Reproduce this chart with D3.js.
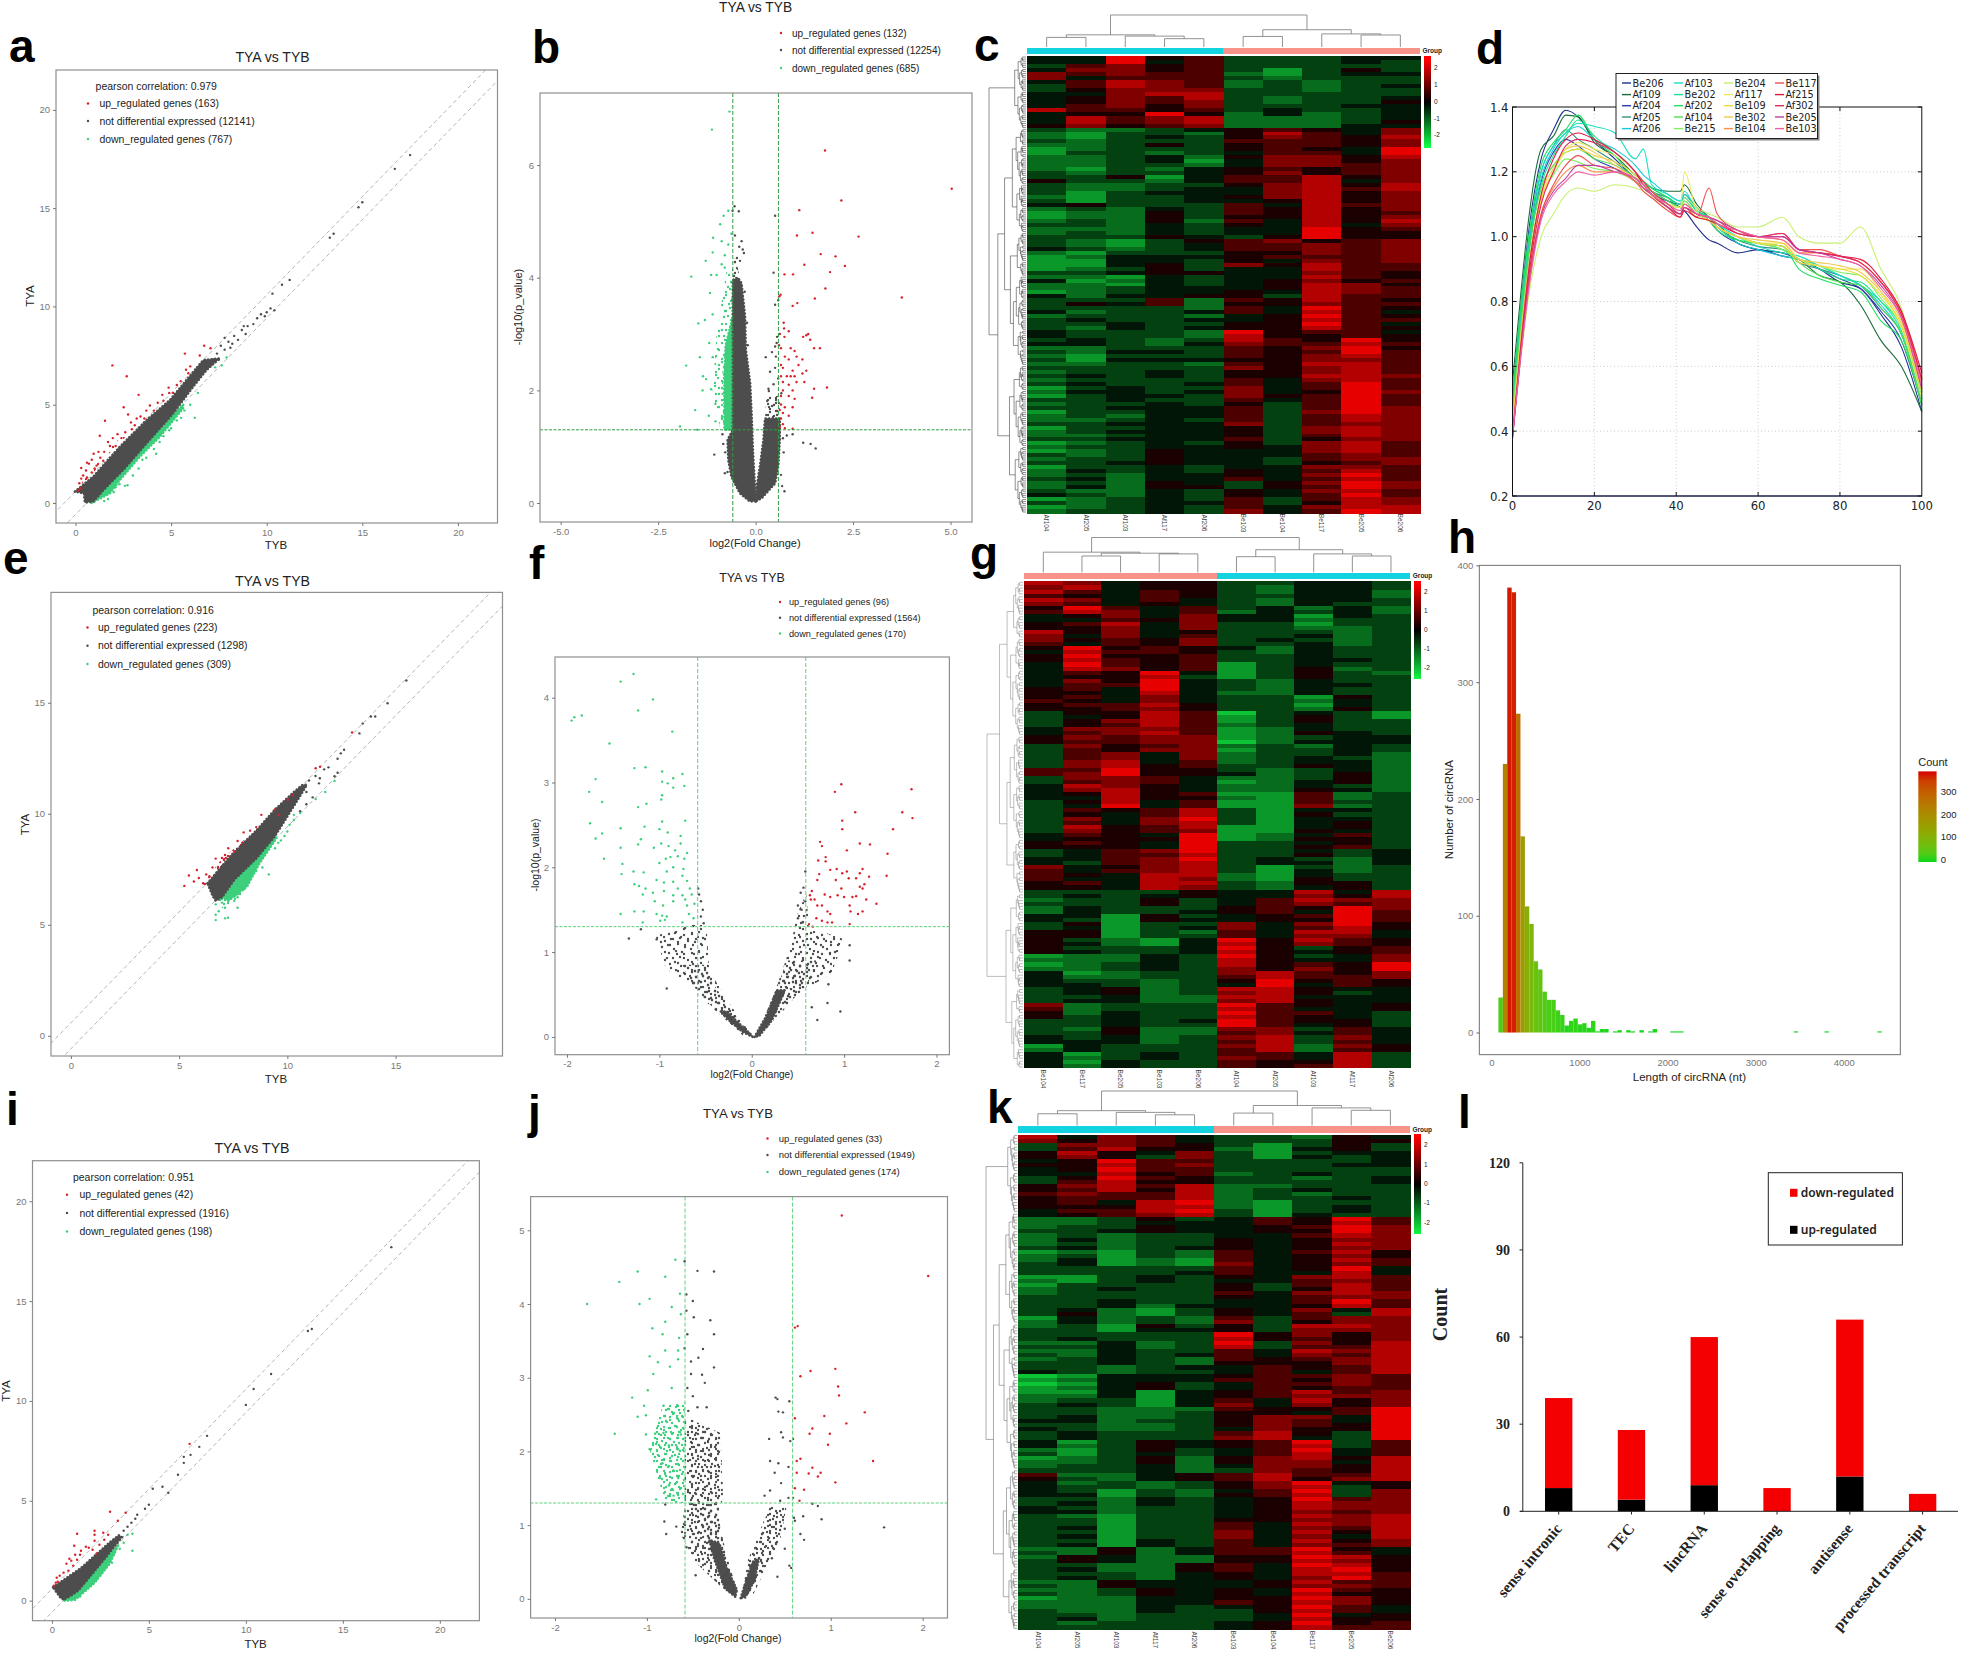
<!DOCTYPE html>
<html><head><meta charset="utf-8">
<script src="https://cdnjs.cloudflare.com/ajax/libs/d3/7.8.5/d3.min.js"></script>
<style>html,body{margin:0;background:#fff}svg{display:block}text{font-family:"Liberation Sans",Arial,sans-serif}</style>
</head><body><svg id="c" width="1961" height="1653"></svg>
<script>
/* ---------- panel a ---------- */
const aCore=[[-.03,.58],[.93,1.34],[2.32,2.86],[3.72,4.22],[4.94,5.24],[5.81,6.26],[6.68,7.27],[7.55,7.36],[6.86,6.77],[6.16,5.92],[5.11,4.56],[3.72,3.04],[2.5,1.68],[1.63,.83],[.93,.07],[.49,.02],[.44,.49]];
const aGreenCore=[[.84,0],[1.8,.49],[2.32,1.17],[3.37,2.36],[4.41,3.37],[5.63,4.82],[5.63,5],[2.5,2],[1,.5]];
const aRedZone=[[.1,.75],[.9,1.75],[2,3],[3,3.9],[3,3.7],[2,2.8],[.9,1.5],[.1,.65]];
const aRed=[[1.93,7],[2.68,6.45],[3.3,5.5],[1.54,4.18],[5.72,7.6],[6.73,8],[7.06,7.87],[6.5,7.5],[2.52,4.87],[2.75,4.5],[4.54,5.5],[3.89,4.96],[4.87,5.87],[5.78,6.78],[1.27,3.42],[.95,2.5],[.3,1.78],[.3,1.24],[.25,.75],[.15,.65],[.4,1.4],[.55,1.65],[.7,2],[.85,2.2],[.6,1.3],[.85,1.55],[1,1.75],[1.1,1.9],[1.3,2.3],[1.5,2.6],[1.7,3.1],[1.95,3.3],[2.2,3.5],[2.4,3.3],[2.6,3.6],[2.9,4.1],[3.1,3.95],[3.4,4.4],[3.6,4.3],[3.7,4.7],[4.1,4.7],[4.3,5.1],[4.6,5.2],[4.9,5.6],[5.1,5.6],[5.3,6],[5.5,6.2],[5.9,6.6],[1.8,2.9],[2.1,2.9],[1.45,2.15],[.2,1],[3.2,4.3],[2.95,3.75],[1.2,2.6],[.6,2.05],[6,6.95]];
const aGreen=[[2.58,.87],[2.72,.9],[4.22,2.5],[6.24,4.33],[5.52,4.33],[7.3,6.9],[7.65,7],[7.9,7.4],[1.5,.1],[1.7,.2],[2,.55],[2.3,.95],[3,1.4],[3.3,1.75],[3.7,2.3],[4.1,2.75],[4.6,3.4],[5,3.8],[5.3,4.2],[5.7,4.7],[6,5],[6.4,5.6],[2.1,.8],[3.5,2.2],[4.4,3.1],[4.9,3.7],[5.5,4.7]];
const aGray=[[7.4,7.6],[7.6,8],[7.8,7.8],[8,8.2],[8.3,8.5],[8.5,8.3],[8.7,8.8],[8.9,8.6],[9,9],[9.3,9.1],[9.5,9.4],[9.7,9.6],[10,9.7],[10.2,9.9],[10.4,9.8],[7.2,7.3],[7.5,7.3],[8.1,7.9],[8.8,9],[9.9,9.5],[10.3,10.65],[10.8,11.1],[11.2,11.35],[13.3,13.5],[13.5,13.7],[14.8,15.05],[15,15.3],[16.7,17],[17.5,17.7],[7.8,8.4],[8.2,8.1]];
/* ---------- panel b ---------- */
const bCore=[[-.587,1.3],[-.587,3.96],[-.45,4],[-.36,3.9],[-.27,3.31],[-.25,2.72],[-.14,2.13],[-.1,1.53],[-.07,.94],[-.03,.46],[.01,.03],[-.15,.03],[-.4,.17],[-.62,.46],[-.7,.76],[-.72,1.12]];
const bRightCore=[[.01,.03],[.03,.29],[.11,.65],[.2,1.12],[.24,1.5],[.62,1.5],[.62,1.12],[.58,.65],[.5,.35],[.16,.09]];
const bRightZone=[[.24,1.5],[.28,1.9],[.62,1.9],[.62,1.5]];
const bGreenCore=[[-.587,1.3],[-.8,1.3],[-.8,2.2],[-.77,2.8],[-.66,3.1],[-.587,3.3]];
const bGreenZone=[[-.587,3.3],[-.7,3],[-.85,2.4],[-.9,1.4],[-.587,1.3]];
const bGreenZone2=[[-.9,1.3],[-1.1,2],[-1,3],[-.75,4.1],[-.587,4.1],[-.587,3]];
const bLeftZone=[[-.6,4],[-.6,4.35],[-.52,4.35],[-.4,4]];
const bRed=[[1.78,6.26],[5.03,5.58],[2.2,5.37],[1.12,5.2],[1.46,4.8],[1.06,4.75],[2.64,4.73],[1.67,4.42],[2.05,4.38],[1.25,4.23],[2.29,4.21],[1.91,4.1],[.74,4.06],[.96,4.06],[1.79,3.81],[1.52,3.63],[3.75,3.65],[.64,3.7],[.61,3.67],[1.07,3.55],[.95,3.5],[.72,3.2],[.73,3.1],[.85,3.05],[1.3,2.98],[1.35,3],[1.4,2.9],[1.22,2.95],[.62,3],[.74,2.95],[.6,2.8],[.65,2.75],[.9,2.75],[1,2.7],[1.05,2.6],[1.5,2.75],[1.65,2.75],[.75,2.6],[.85,2.55],[1.1,2.45],[1.2,2.55],[.65,2.45],[.7,2.4],[.95,2.35],[1.2,2.3],[1.3,2.35],[.65,2.25],[.8,2.25],[.9,2.25],[1,2.25],[.7,2.15],[.85,2.1],[1.05,2.15],[1.25,2.15],[.7,2],[.95,2],[1.5,2.03],[1.83,2.05],[.65,1.9],[.85,1.9],[1,1.85],[1.45,1.87],[.65,1.75],[.75,1.7],[.95,1.7],[.62,1.65],[.7,1.6],[.85,1.55],[.65,1.5],[.7,1.4],[.62,1.35],[.75,1.33],[.95,1.32]];
const bGreen=[[-.67,6.95],[-1.12,6.63],[-1.65,4.02],[-1.28,4.3],[-1.78,2.44],[-1.94,1.36],[-1.55,1.65],[-1.5,1.3],[-1.36,2],[-1.35,2.25],[-1.14,2.02],[-1.47,3.19],[-1.3,3.25],[-1.1,3.35],[-1.17,3.73],[-1.14,4.05],[-.7,5.19],[-.82,5.1],[-.91,4.95],[-1.09,4.71],[-.87,4.65],[-.7,4.59],[-1.1,4.45],[-.79,4.4],[-.87,4.24],[-.62,4.78],[-1,4.05],[-.79,4.18],[-1.43,2.59],[-1.1,2.59],[-1.19,2.84],[-1.27,2.2],[-1.03,1.76],[-1.03,1.45],[-1.2,1.55]];
const bGray=[[-.54,5.27],[-.43,5.18],[-.59,5.19],[.5,5.1],[.46,4.09],[.5,3.52],[.58,3.6],[-.3,4.44],[-.42,4.55],[-.53,4.75],[-.36,4.65],[-.33,4.5],[-.48,4.35],[-.4,4.3],[.26,2.59],[.42,2.68],[.5,2.78],[.54,2.84],[.37,2.33],[.5,2.4],[.58,2.21],[.46,2.11],[.34,1.99],[.66,1.95],[1.54,.97],[1.41,1.05],[1.22,1.07],[.95,1.22],[.74,.21],[-1.06,.86],[-.79,.53],[.8,1.2],[.72,.9],[.65,.5],[.33,2.03],[.52,2.6],[.55,2.95],[-.85,1.22],[-.83,1.05],[-.78,.9],[-.72,.55],[-.22,3.2],[-.28,3.75],[-.2,2.8],[.7,1.15],[.68,.3]];
/* ---------- panel e ---------- */
const eCore=[[6.31,6.87],[7.41,8.14],[8.56,9.24],[9.43,10.19],[10.3,10.98],[10.7,11.3],[10.9,11.3],[10.3,10.35],[9.43,9],[8.56,7.98],[7.55,7.03],[6.98,6.24],[6.69,6.08],[6.55,6.3]];
const eGreenCore=[[6.89,6.3],[7.55,7.2],[8.56,8.2],[9.4,9.2],[9.5,8.9],[8.7,7.75],[8.13,6.71],[7.27,6.08]];
const eGreenZone=[[6.7,6.1],[8,6.9],[7.85,6.3],[7,5.75]];
const eRedZone=[[6.11,6.79],[6.84,7.82],[7.84,8.69],[8.85,9.48],[9.58,10.11],[9.72,9.95],[8.71,9.16],[7.84,8.29],[6.98,7.5],[6.4,6.79]];
const eRed=[[5.24,6.75],[5.45,7.22],[5.82,7.47],[5.68,6.95],[5.91,7.11],[6.25,7.27],[6.69,7.98],[6.98,8.01],[7.27,8.45],[7.7,8.77],[7.98,9.16],[8.8,9.95],[9.43,10.19],[9.58,9.95],[10.01,10.63],[10.24,10.85],[11.31,12.05],[11.51,12.12],[12.99,13.66],[8.56,9.4],[8.28,9.24],[7.12,8.14],[7.55,8.29],[6.54,7.58],[6.4,7.19],[6.11,6.87]];
const eGreen=[[6.69,5.21],[6.69,5.45],[7.12,5.29],[7.26,5.32],[6.83,5.61],[7.12,5.77],[7.7,5.77],[6.69,5.92],[6.98,6],[7.98,6.59],[7.55,6.08],[9.14,7.27],[8.85,7.58],[8.56,7.42],[8.28,7.27],[9.43,8.45],[9.58,8.69],[9.87,9],[10.3,9.72],[10.59,10.03],[11.31,10.66],[11.75,10.98],[12.18,11.48],[10.3,9.95],[7.7,6.24],[8.13,6.87],[8.71,7.98],[10,9.2],[10.1,9.5],[9.7,8.8]];
const eGray=[[12.62,12.88],[12.47,12.72],[12.32,12.48],[11.9,12.09],[12.32,11.85],[12.18,11.69],[13.48,14.06],[13.86,14.38],[14.06,14.38],[14.63,14.98],[15.5,16],[13.33,13.62],[11.46,11.37],[10.88,10.98],[11.17,10.74],[10.88,10.43],[10.59,10.11],[11,11.5],[11.3,11.7],[11.7,12],[11.5,11.6]];
/* ---------- panel f ---------- */
const fLeftZone=[[-.09,.01],[-.49,.41],[-.73,.67],[-.93,.8],[-1.04,1.19],[-.7,1.32],[-.49,1.32],[-.46,.78],[-.22,.36],[-.02,.05]];
const fLeftLow=[[-.05,.01],[-.45,.38],[-.65,.62],[-.75,.85],[-.5,.85],[-.4,.6],[-.2,.28],[-.02,.04]];
const fLeftCore=[[.01,0],[-.1,.06],[-.25,.2],[-.34,.3],[-.27,.3],[-.12,.14],[-.01,.03]];
const fRightZone=[[.05,.01],[.25,.53],[.42,1.07],[.49,1.44],[.59,1.69],[.62,1.3],[1,1.15],[.86,.74],[.52,.53],[.25,.2],[.08,.01]];
const fRightLow=[[.05,.01],[.25,.5],[.38,.9],[.7,.9],[.6,.6],[.4,.4],[.2,.15],[.08,.01]];
const fRightCore=[[.03,0],[.16,.25],[.27,.55],[.36,.55],[.22,.2],[.08,.01]];
const fRed=[[.97,2.98],[.9,2.89],[1.73,2.92],[1.63,2.65],[1.74,2.58],[1.12,2.65],[.98,2.55],[.98,2.45],[1.53,2.45],[.74,2.3],[.76,2.25],[1.17,2.28],[1.28,2.27],[1.03,2.2],[1.47,2.16],[.8,2.12],[.72,2.08],[.8,2.07],[.73,1.92],[.85,1.97],[.92,1.98],[.98,1.93],[1.03,1.95],[1.2,1.98],[1.17,1.93],[1.46,1.9],[.71,1.85],[.91,1.85],[1.05,1.87],[1.13,1.87],[1.27,1.89],[1.22,1.8],[.65,1.72],[.97,1.75],[1.17,1.77],[1.2,1.75],[.63,1.67],[.68,1.62],[.85,1.65],[.93,1.67],[1,1.65],[1.09,1.65],[1.13,1.66],[1.24,1.62],[.79,1.68],[.64,1.62],[.71,1.55],[.76,1.55],[1.06,1.55],[1.35,1.57],[1.07,1.48],[1.2,1.48],[.85,1.45],[.82,1.48],[1.15,1.45],[.7,1.4],[.76,1.37],[.82,1.35],[.87,1.35],[.62,1.33],[.66,1.3],[1.06,1.33]];
const fGreen=[[-1.95,3.73],[-1.92,3.77],[-1.84,3.79],[-1.42,4.19],[-1.28,4.28],[-1.07,3.98],[-1.23,3.85],[-.86,3.6],[-1.54,3.46],[-1.27,3.17],[-1.15,3.18],[-1.69,3.04],[-.97,3.13],[-.75,3.1],[-.97,3.01],[-.85,3.05],[-.91,2.99],[-.73,2.96],[-.85,2.94],[-1.76,2.89],[-.97,2.85],[-.98,2.8],[-1.62,2.77],[-1.14,2.75],[-1.23,2.71],[-1.75,2.52],[-.97,2.54],[-.72,2.55],[-1.62,2.4],[-1.42,2.46],[-1.16,2.48],[-1,2.45],[-.91,2.41],[-1.69,2.34],[-1.2,2.33],[-.77,2.37],[-1.42,2.23],[-1.23,2.27],[-1.06,2.23],[-.98,2.28],[-.9,2.25],[-.83,2.2],[-.77,2.28],[-.7,2.17],[-1.6,2.1],[-.93,2.1],[-.88,2.12],[-.8,2.13],[-.73,2.1],[-1.4,2.04],[-1,2.05],[-.85,2],[-.74,1.98],[-1.28,1.95],[-1.17,1.94],[-1.41,1.92],[-.92,1.95],[-.75,1.9],[-1.27,1.8],[-1.22,1.78],[-1.03,1.85],[-.95,1.82],[-.85,1.83],[-.7,1.84],[-1.15,1.75],[-.95,1.72],[-.8,1.75],[-.67,1.75],[-1.18,1.68],[-1.07,1.7],[-.85,1.67],[-.75,1.67],[-.65,1.68],[-1.05,1.6],[-.85,1.6],[-.72,1.62],[-1.17,1.48],[-1.27,1.48],[-.96,1.55],[-.7,1.55],[-.62,1.57],[-1.42,1.45],[-1.03,1.45],[-.97,1.43],[-.92,1.42],[-.94,1.38],[-.99,1.37],[-.68,1.45],[-.63,1.4],[-1.18,1.35],[-.75,1.35]];
const fGray=[[-.58,1.75],[-.57,1.68],[-.55,1.6],[-.53,1.5],[-.55,1.42],[-.52,1.34],[.58,1.95],[.56,1.76],[.53,1.7],[.58,1.6],[.5,1.55],[.54,1.5],[.5,1.4],[.55,1.35],[-1.33,1.16],[-1.03,1.15],[-.92,.57],[.96,.3],[.83,.62],[.71,.2],[1.06,.9],[1.06,1.08],[-1.2,1.27],[.82,.4],[.65,.35]];
/* ---------- panel i ---------- */
const iCore=[[.06,.67],[1.52,1.65],[2.97,2.91],[3.45,3.27],[3.61,3.18],[2.65,2.01],[1.35,.49],[.65,.04],[.45,.13]];
const iGreenCore=[[.65,0],[1.19,.04],[2.16,.85],[2.97,1.83],[3.45,2.82],[3.13,2.45],[2.16,1.6],[1.35,.7]];
const iRed=[[7.1,7.85],[3,4.45],[3.4,4],[3.8,4.4],[1.3,3.35],[2.2,3.5],[2.65,3.4],[2.2,3.3],[2.9,3.3],[1.15,2.75],[2.2,3],[2.7,3.05],[1.75,2.7],[1.9,2.65],[1.5,2.5],[1.45,2.3],[2.1,2.55],[1.2,2.3],[.9,2.1],[1,2],[.75,1.85],[1.1,1.75],[.85,1.5],[.6,1.4],[.4,1.25],[.25,1.15],[.2,.9],[.1,.75],[.3,.95],[1.3,2.05],[2.45,2.8],[2.3,2.35]];
const iGreen=[[4.15,2.5],[4.15,3.35],[3.7,2.9],[3.5,2.6],[3.2,2.35],[3.1,1.9],[2.7,1.55],[2.5,1.3],[2.3,1.05],[2,.75],[1.7,.5],[1.45,.2],[.95,.1],[.8,.05],[3.9,3.3]];
const iGray=[[3.7,3.5],[3.9,3.7],[4.1,3.9],[4.3,4.1],[4.4,4.3],[4.8,4.6],[5,4.8],[5.2,5.6],[5.7,5.7],[6,5.4],[6.5,6.3],[6.8,6.9],[6.8,7.2],[7.15,7.3],[7.6,7.7],[8,8.25],[10,9.8],[10.4,10.6],[11.3,11.35],[13.2,13.5],[13.4,13.6],[17.5,17.7]];
/* ---------- panel j ---------- */
const jLeftZone=[[-.585,2.47],[-.2,2.25],[-.17,1.34],[-.22,1.25],[-.19,.89],[-.1,.44],[-.02,.12],[-.04,.03],[-.19,.16],[-.46,.48],[-.64,.89],[-.585,1.25]];
const jLeftDense=[[-.04,.03],[-.17,.16],[-.31,.62],[-.44,1.07],[-.51,1.25],[-.22,1.25],[-.19,.89],[-.1,.44],[-.02,.12]];
const jLeftCore=[[-.04,.03],[-.15,.14],[-.27,.55],[-.32,.8],[-.21,.75],[-.14,.45],[-.02,.12]];
const jRightZone=[[.03,.03],[.1,.53],[.23,.93],[.34,1.25],[.52,1.25],[.45,.8],[.27,.35],[.16,.07]];
const jRightCore=[[.02,.01],[.08,.25],[.15,.5],[.22,.55],[.17,.25],[.07,.02]];
const jGreenZone=[[-.83,2.62],[-.59,2.67],[-.59,1.3],[-.8,1.3],[-.97,2.03]];
const jRed=[[1.12,5.2],[2.06,4.38],[.61,3.68],[.64,3.7],[.78,3.09],[.67,3.02],[1.05,3.12],[1.08,2.88],[1.09,2.76],[1.37,2.53],[.93,2.48],[.61,2.45],[1.17,2.38],[.8,2.31],[.77,2.24],[.99,2.24],[.59,2.17],[.97,2.09],[1.46,1.87],[.67,1.9],[.63,1.87],[.8,1.78],[.89,1.71],[.63,1.71],[.76,1.7],[.86,1.66],[1.05,1.58],[.61,1.5],[.71,1.48],[.66,1.33],[.59,1.37]];
const jGreen=[[-.69,4.6],[-1.1,4.44],[-.8,4.37],[-1.3,4.3],[-.97,4.07],[-1.65,4],[-1.08,4],[-.64,4.14],[-.73,3.96],[-.63,3.86],[-.8,3.76],[-.94,3.67],[-.83,3.59],[-.65,3.54],[-.97,3.29],[-.8,3.37],[-.66,3.37],[-.88,3.21],[-.66,3.25],[-.93,3.05],[-.75,3.15],[-.99,2.83],[-1.16,2.73],[-1.03,2.62],[-1.1,2.47],[-1.01,2.49],[-.82,2.62],[-.73,2.86],[-1.35,2.24],[-1.01,2.23],[-.91,2.24],[-.82,2.25],[-.63,2.23],[-.76,2.08],[-.9,2.1],[-.97,2.03],[-.66,2.03],[-.83,1.84],[-.71,1.74],[-.86,1.64],[-.66,1.64],[-.76,1.54],[-.9,1.35],[-.71,1.4]];
const jGray=[[1.58,.97],[.4,2.73],[.42,2.71],[.55,2.68],[.43,2.54],[.48,2.53],[.46,2.26],[.33,2.17],[.48,2.19],[.56,2.14],[.34,1.87],[.43,1.84],[.54,1.79],[.39,1.71],[.46,1.57],[.34,1.47],[.54,1.37],[.8,1.29],[.86,1.26],[.7,1.12],[.9,1.08],[.61,1.06],[.67,.88],[-.59,4.58],[-.45,4.45],[-.27,4.44],[-.57,4.13],[-.5,4.04],[-.57,3.91],[-.49,3.82],[-.31,3.78],[-.27,3.59],[-.56,3.59],[-.59,3.4],[-.39,3.39],[-.44,3.27],[-.52,3.22],[-.27,3.14],[-.52,3.05],[-.4,3.04],[-.37,2.93],[-.56,2.86],[-.8,1.28],[-.81,1.05],[-.68,.98],[-.57,.7],[-.47,.32],[-.79,.88],[.42,.3],[.55,.45],[.57,.42],[.71,.8],[-.5,2.75],[-.45,2.6],[-.55,2.55],[-.35,2.6],[.28,1.4],[.45,1.33],[.6,1.1],[.5,.95],[.36,.55],[.5,.68]];
/* ---------- heatmaps: one digit per cell, rows top to bottom ---------- */
const cCols=["Af104","Af205","Af103","Af117","Af206","Be103","Be104","Be117","Be205","Be206"];
const gCols=["Be104","Be117","Be205","Be103","Be206","Af104","Af205","Af103","Af117","Af206"];
const kCols=cCols;
const cRows=["4495633344","4494633343","3675633333","4775631353","7676621344","7466632333","4687623233","3687623234","3577733233","4478833333","4576832334","4576732335","4675733344","8665634334","4559524234","4867822234","4867822235","5756722244","3223456547","2133258647","2134357658","3233366657","2235356657","1233356549","1332346649","2234257758","2234147757","2233247767","2132456567","3233457567","3351466857","5332466847","3223357858","3223447868","3134447857","2133457857","3133445857","4533364867","2324365857","1225365856","1225355857","2325264858","3324354847","2224344956","2324344955","3335435955","3213567567","3213466767","4323466767",
"2133355767","1244456667","1144354767","1145375866","1235344866","3345544765","2214344865","4124345756","2214345875","2234445876","1234454876","4244553866","3336265865","3546255766","3333264965","4233464864","2333245965","3433445866","3343355964","3243455865","4333295664","4333285565","3432386595","4432476686","2233365795","3244365696","2133365786","3144455776","2233265886","3333375786","2334355786","3434355887","2333364786","3433464696","1343374696","2443474597","1344375696","3343364696","2334353696","3344463697","1334463797","2324463687","2234363687","3344473677","1334453787","2344453787","2234453687","3344463577","1234353786","2334454786","1235444786","3235444676","2335443677","3345443567","1334344776","2434354686","2324454796","3424464686","2325435797","2425535697","3224354786","4324354696","1234363687","3234463587","1234364788","2334374698"].slice(0,120);
const gRows=["8745533443","7845532443","8646532442","6546533442","8746432443","7645432433","5964634242","6874624342","4574744143","4465744233","5684733133","5574733223","8574533323","7474633423","7565734323","6465733423","5956542433","4866532433","5955633433","5865633443","4965613433","4875613523","4659413532","4558313533","4759432433","4669432443","5649432433","5548422433","5647433153","6547433243","5668533143","5567533253","3558603431","3458613531","3578613533","3568623433","4777612433","4678612543","5767712344","5667702444","3756723243","3657713343","3674723342","3674723432","3784623442","3785633542","6695532342","6795542352","3776422352","3676412452","4875422432","4785422542","4585611623","4485521623","3584611633","3494611723","3656831443","3546831533","3747931443","3647831453","3856811453","3756711543","4654912463","4555912553","5654933453","5554933563","3467933434","3466833534","4467934324","4367834424","7457831323","6467831423","6548821433","6448721533","5648832553","5548732453","3333544848","3434544758","2335346877","3335346767","2433356597","2433456496","4415345696","4315445596","3513374795","3413474685","5513264884","5513364774","5321495865","5421485765","5333495356","5433485456","1224395347","2224385447","1234385659","2234375759","4123378657","4223368667","4332359565","4432349465","3452388544","3452378534","3342288444","3442278544","7233396545","6233386445","5243396643","5343386543","3343496553","3343396453","3252277364","3352267464","4342378374","4442368364","1433378275","2433368265","4134366483","4234376483","4143365583","4243365683"];
const kRows=["8476433254","7576433355","3776531353","3685521453","5854731344","5753731434","4596633334","5586733344","4596633333","4485623433","3596533234","3685533334","5786822333","5685823433","6766823233","5666823343","5648921333","5558821343","4668931343","4567831433","2235346596","2234446586","2335445697","3345445597","2323344687","2423354577","2323354587","3423454577","1213264685","2313264575","2412164586","3412174576","3333364594","3333464484","1134354786","2134344676","1333353686","2343353586","2333364787","3333354677","3343344696","3342444586","3421354748","3521354638","1423263677","2423273577","2315353887","3314453777","3333395757","3433385657","2242393758","3342383668","2243364878","3243464768","2343265678","3343255578","3323446568","4323346468","0144456676","1244466576","0145346676","1245346566","1141456867","2241456777","2331464857","3431474757","3322265569","3322355469","3422357749","4423357649","3322357659","4322347559","3433368539","3433378439","4135456936","4235456836","2135346946","3134346846","1235257858","2235257748","2334247758","3334237658","6224568668","5324568578","4232357945","4332357835","4313246937","4413256837","3324345967","3424345877","4323345877","4423345767","3213345878","3313355778","3313364878","3413364768","3313374858","3413374748","3314364857","3414364767","2252466954","3252466864","2542255985","3542255875","3322564985","3422564895","3332454886","3432454796","2254445866","3254445776","2235454965","3235454855","1224455975","2224465875","2224345964","3224335864","3323334945","3423334855","3233345956","3333345866"];
const leafRatios=[.5,.38,.62,.44,.55,.33,.67,.48];
/* tree: leaf = column index, node = [height, child, child] */
const cTree=[1,[.38,[.3,0,1],[.34,2,[.26,3,4]]],[.54,[.33,5,6],[.41,7,[.375,8,9]]]];
const gTree=[1,[.58,0,[.55,[.47,1,2],[.53,3,4]]],[.65,[.45,5,6],[.53,7,[.47,8,9]]]];
const kTree=[1,[.43,[.34,0,1],[.38,2,[.31,3,4]]],[.58,[.36,5,6],[.51,7,[.44,8,9]]]];
/* ---------- panel d ---------- */
const dX=[0,2,4,7,10,13,16,20,25,30,32,34,38,41,42,45,48,50,55,60,66,70,75,80,85,90,95,100];
const dNames=["Be206","Af109","Af204","Af205","Af206","Af103","Be202","Af202","Af104","Be215","Be204","Af117","Be109","Be302","Be104","Be117","Af215","Af302","Be205","Be103"];
const dColors=["#1f2f8f","#1a6b3a","#2a3db0","#3a8f80","#19c8d8","#18e0c0","#1fe090","#20e060","#50e050","#80f060","#c8f070","#f0e860","#f0d840","#f0c850","#f8904a","#f05050","#e01840","#e02860","#c040a0","#f060a0"];
const dSeries=[
[.5,.78,1.02,1.24,1.33,1.39,1.37,1.3,1.24,1.18,1.16,1.14,1.11,1.09,1.08,1.03,.99,.98,.95,.96,.94,.93,.9,.86,.84,.76,.66,.46],
[.55,.82,1.06,1.27,1.31,1.375,1.37,1.29,1.25,1.19,1.17,1.15,1.14,1.14,1.16,1.1,1.06,1.04,.98,.96,.95,.93,.88,.86,.79,.68,.6,.46],
[.45,.72,.95,1.17,1.26,1.3,1.28,1.24,1.21,1.17,1.15,1.13,1.11,1.1,1.12,1.08,1.05,1.02,.98,.96,.95,.93,.9,.87,.84,.77,.68,.48],
[.48,.75,.98,1.2,1.28,1.33,1.3,1.27,1.23,1.18,1.16,1.14,1.12,1.1,1.13,1.09,1.06,1.03,.99,.97,.96,.92,.9,.88,.85,.78,.7,.5],
[.47,.74,.97,1.18,1.27,1.32,1.34,1.3,1.27,1.22,1.19,1.17,1.13,1.11,1.13,1.08,1.05,1.03,.98,.96,.94,.93,.91,.88,.85,.79,.7,.5],
[.46,.76,1,1.2,1.28,1.32,1.35,1.34,1.32,1.24,1.27,1.16,1.13,1.11,1.14,1.08,1.06,1.04,1,.97,.95,.94,.91,.88,.85,.8,.71,.52],
[.44,.72,.96,1.16,1.25,1.31,1.36,1.31,1.26,1.2,1.17,1.15,1.12,1.1,1.12,1.08,1.06,1.03,.99,.98,.96,.93,.9,.87,.86,.8,.72,.5],
[.5,.78,1,1.22,1.29,1.33,1.375,1.3,1.25,1.18,1.17,1.15,1.12,1.09,1.1,1.07,1.05,1.02,.99,.98,.97,.9,.87,.85,.83,.74,.68,.48],
[.46,.72,.95,1.15,1.22,1.26,1.27,1.24,1.22,1.18,1.16,1.14,1.11,1.09,1.11,1.07,1.05,1.03,1,.98,.97,.92,.88,.86,.85,.78,.7,.48],
[.44,.7,.92,1.12,1.19,1.24,1.23,1.21,1.2,1.17,1.15,1.13,1.1,1.09,1.11,1.07,1.05,1.03,1,.98,.96,.93,.91,.89,.88,.81,.72,.52],
[.4,.62,.82,1,1.07,1.13,1.15,1.14,1.16,1.15,1.14,1.12,1.1,1.09,1.12,1.09,1.07,1.06,1.03,1.03,1.06,1,.98,.98,1.03,.9,.78,.52],
[.42,.68,.9,1.12,1.2,1.27,1.29,1.27,1.25,1.2,1.17,1.14,1.1,1.09,1.2,1.08,1.05,1.03,1,.98,.98,.93,.91,.9,.9,.83,.72,.5],
[.41,.68,.9,1.11,1.2,1.26,1.27,1.25,1.23,1.19,1.16,1.13,1.09,1.07,1.09,1.06,1.05,1.03,1,.98,.97,.92,.91,.9,.88,.82,.73,.52],
[.42,.69,.91,1.13,1.21,1.27,1.28,1.26,1.22,1.18,1.16,1.13,1.1,1.08,1.1,1.07,1.05,1.03,1,.99,.98,.93,.92,.91,.89,.83,.74,.53],
[.4,.65,.87,1.07,1.15,1.2,1.22,1.2,1.2,1.17,1.15,1.13,1.09,1.07,1.1,1.07,1.06,1.04,1.02,1,.99,.95,.95,.94,.92,.86,.76,.55],
[.38,.64,.86,1.07,1.16,1.22,1.25,1.22,1.21,1.17,1.14,1.12,1.08,1.06,1.09,1.06,1.15,1.07,1.02,1,1.01,.96,.96,.94,.92,.86,.77,.56],
[.38,.66,.9,1.13,1.24,1.3,1.32,1.3,1.26,1.2,1.16,1.13,1.09,1.06,1.08,1.06,1.05,1.04,1.01,1,1,.96,.95,.94,.93,.87,.77,.58],
[.38,.65,.88,1.1,1.2,1.28,1.3,1.29,1.26,1.2,1.17,1.14,1.1,1.07,1.09,1.07,1.06,1.05,1.01,1,1.01,.96,.95,.94,.92,.86,.76,.56],
[.38,.63,.85,1.06,1.14,1.18,1.22,1.22,1.2,1.18,1.15,1.13,1.09,1.07,1.09,1.07,1.06,1.05,1.02,1,1,.96,.95,.93,.91,.85,.75,.53],
[.39,.63,.84,1.05,1.13,1.17,1.2,1.19,1.2,1.18,1.16,1.13,1.1,1.08,1.1,1.07,1.06,1.04,1.02,1,.99,.95,.94,.93,.91,.84,.75,.54]];
/* ---------- panel h ---------- */
const hStarts=[81,131,181,231,281,331,381,431,481,531,581,631,681,731,781,831,881,931,981,1031,1081,1131,1181,1231,1281,1381,1431,1531,1581,1681,1781,1831,2031,2081,2131,3431,3781,4381];
const hCounts=[30,230,381,377,273,168,108,93,61,54,35,28,28,19,15,6,10,12,7,8,4,10,1,3,3,1,2,2,1,2,1,3,1,1,1,1,1,1];
const hBinWidth=50;
/* ---------- panel l ---------- */
const lCats=["sense intronic","TEC","lincRNA","sense overlapping","antisense","processed transcript"];
const lUp=[8,4,9,0,12,0];
const lDown=[31,24,51,8,54,6];

/* ---------- drawing ---------- */
const svg=d3.select("#c"),defs=svg.append("defs");
const RED="#d8202a",GRAY="#4d4d4d",GREEN="#3ccf7c";
const patA={w:23,h:19,dots:[[2,3],[9,1],[17,4],[6,8],[13,7],[21,10],[3,14],[11,13],[18,16]]};
const patB={w:17,h:29,dots:[[4,1],[12,5],[1,9],[8,11],[15,14],[5,17],[11,21],[2,24],[14,26]]};
const patC={w:13,h:11,dots:[[3,2],[9,4],[1,8],[7,9]]};
[["r",RED],["k",GRAY],["g",GREEN]].forEach(([id,col])=>{
  [["A",patA],["B",patB],["C",patC]].forEach(([n,P])=>{
    const p=defs.append("pattern").attr("id","pat"+id+n).attr("patternUnits","userSpaceOnUse").attr("width",P.w).attr("height",P.h);
    p.selectAll("circle").data(P.dots).join("circle").attr("cx",d=>d[0]).attr("cy",d=>d[1]).attr("r",1.2).attr("fill",col);
  });
});
let clipN=0;
function scatter(c){
  const x=d3.scaleLinear().domain(c.xd).range([c.L,c.R]),y=d3.scaleLinear().domain(c.yd).range([c.B,c.T]);
  const g=svg.append("g");
  const id="clip"+(clipN++);
  defs.append("clipPath").attr("id",id).append("rect").attr("x",c.L).attr("y",c.T).attr("width",c.R-c.L).attr("height",c.B-c.T);
  const plot=g.append("g").attr("clip-path",`url(#${id})`);
  const ln=d3.line().x(d=>x(d[0])).y(d=>y(d[1])).curve(d3.curveLinearClosed);
  if(c.diag)[.585,-.585].forEach(o=>plot.append("line").attr("x1",x(-5)).attr("y1",y(-5+o)).attr("x2",x(30)).attr("y2",y(30+o)).attr("stroke","#aaa").attr("stroke-width",.9).attr("stroke-dasharray","4 3"));
  (c.polys||[]).forEach(p=>{
    const col={r:RED,k:GRAY,g:GREEN}[p[1]];
    if(p[2]){ // dotted zone: overlaid dot textures, a stipple standing in for thousands of points
      ["A","B","C"].slice(0,p[2]).forEach(n=>plot.append("path").attr("d",ln(p[0])).attr("fill",`url(#pat${p[1]}${n})`));
    }else{
      plot.append("path").attr("d",ln(p[0])).attr("fill",col).attr("stroke",col).attr("stroke-width",.6);
      plot.append("path").attr("d",ln(p[0])).attr("fill","none").attr("stroke",col).attr("stroke-width",2.6).attr("stroke-linecap","round").attr("stroke-dasharray","0.1 3.4");
    }
  });
  [[c.gray,GRAY],[c.green,GREEN],[c.red,RED]].forEach(([pts,col])=>plot.selectAll(null).data(pts).join("circle").attr("cx",d=>x(d[0])).attr("cy",d=>y(d[1])).attr("r",1.2).attr("fill",col));
  if(c.volcano){
    const gc=c.lineCol;
    [-.585,.585].forEach(v=>plot.append("line").attr("x1",x(v)).attr("x2",x(v)).attr("y1",c.T).attr("y2",c.B).attr("stroke",gc).attr("stroke-width",1).attr("stroke-dasharray","4 2"));
    plot.append("line").attr("x1",c.L).attr("x2",c.R).attr("y1",y(1.3)).attr("y2",y(1.3)).attr("stroke",gc).attr("stroke-width",1).attr("stroke-dasharray","3 1.5");
  }
  g.append("rect").attr("x",c.L).attr("y",c.T).attr("width",c.R-c.L).attr("height",c.B-c.T).attr("fill","none").attr("stroke","#8f8f8f").attr("stroke-width",1.2);
  const style=a=>{a.select(".domain").remove();a.selectAll("line").attr("stroke","#777");a.selectAll("text").attr("fill","#777").style("font-size","9.5px").style("font-family",'"Liberation Sans"');};
  g.append("g").attr("transform",`translate(0,${c.B})`).call(d3.axisBottom(x).tickValues(c.xt).tickSize(3).tickPadding(3).tickFormat(c.xf||(d=>d))).call(style);
  g.append("g").attr("transform",`translate(${c.L},0)`).call(d3.axisLeft(y).tickValues(c.yt).tickSize(3).tickPadding(3).tickFormat(d=>d)).call(style);
  txt(c.tx,c.ty,"TYA vs TYB",c.ts||14,"middle");
  const lf=c.lf||10.45;
  if(c.pearson)txt(c.pearson[0],c.pearson[1],c.pearson[2],lf,"start");
  c.legend.forEach((l,i)=>{
    const col=[RED,GRAY,GREEN][i];
    g.append("circle").attr("cx",c.ldx).attr("cy",c.lys[i]).attr("r",1.2).attr("fill",col);
    txt(c.ltx,c.lys[i],l,lf,"start");
  });
  txt(c.xlx,c.xly,c.xlab,c.xls||11.5,"middle");
  if(c.ylab)txt(c.ylx,c.yly,c.ylab,c.yls||11.5,"middle",-90);
}
function txt(x,y,s,size,anchor,rot,extra){
  const t=svg.append("text").attr("x",x).attr("y",y).attr("dy",".35em").attr("font-size",size).attr("text-anchor",anchor||"start").attr("fill","#222").text(s);
  if(rot)t.attr("transform",`rotate(${rot} ${x} ${y})`);
  if(extra)extra(t);
  return t;
}
const up=n=>`up_regulated genes (${n})`,nd=n=>`not differential expressed (${n})`,dn=n=>`down_regulated genes (${n})`;
scatter({L:56,R:497.5,T:70,B:523,xd:[-1.02,22.07],yd:[-1.02,22.03],xt:[0,5,10,15,20],yt:[0,5,10,15,20],diag:1,
  polys:[[aRedZone,"r",1],[aGreenCore,"g"],[aCore,"k"]],red:aRed,green:aGreen,gray:aGray,
  tx:272.5,ty:57,pearson:[95.6,86,"pearson correlation: 0.979"],legend:[up(163),nd(12141),dn(767)],ldx:88,ltx:99.4,lys:[103.5,121,139],
  xlx:276,xly:545,xlab:"TYB",ylx:30,yly:296,ylab:"TYA"});
scatter({L:540,R:972,T:93,B:522,xd:[-5.53,5.55],yd:[-.337,7.28],xt:[-5,-2.5,0,2.5,5],yt:[0,2,4,6],xf:d=>d.toFixed(1),volcano:1,lineCol:"#2f9e44",
  polys:[[bGreenZone2,"g",2],[bGreenZone,"g",3],[bGreenCore,"g"],[bRightZone,"k",3],[bLeftZone,"k",3],[bRightCore,"k"],[bCore,"k"]],red:bRed,green:bGreen,gray:bGray,
  tx:755.6,ty:7.5,ts:13.8,legend:[up(132),nd(12254),dn(685)],ldx:781,ltx:792,lys:[33,50,68],lf:10,
  xlx:755,xly:543,xlab:"log2(Fold Change)",xls:11,ylx:518,yly:307,ylab:"-log10(p_value)",yls:11});
scatter({L:51,R:502.5,T:592.4,B:1056,xd:[-.92,19.94],yd:[-.91,19.97],xt:[0,5,10,15],yt:[0,5,10,15],diag:1,
  polys:[[eRedZone,"r",3],[eGreenZone,"g",3],[eGreenCore,"g"],[eCore,"k"]],red:eRed,green:eGreen,gray:eGray,
  tx:272.5,ty:581,ts:14.2,pearson:[92.5,610,"pearson correlation: 0.916"],legend:[up(223),nd(1298),dn(309)],ldx:87.5,ltx:98,lys:[627.5,645.8,664],
  xlx:276,xly:1078.6,xlab:"TYB",ylx:25,yly:824.6,ylab:"TYA"});
scatter({L:555,R:949.4,T:657,B:1054.7,xd:[-2.13,2.14],yd:[-.21,4.48],xt:[-2,-1,0,1,2],yt:[0,1,2,3,4],volcano:1,lineCol:"#5fd07a",
  polys:[[fLeftZone,"k",2],[fRightZone,"k",2],[fLeftLow,"k",3],[fRightLow,"k",3],[fLeftCore,"k"],[fRightCore,"k"]],red:fRed,green:fGreen,gray:fGray,
  tx:752,ty:578,ts:12.4,legend:[up(96),nd(1564),dn(170)],ldx:780,ltx:789,lys:[602,617.7,633.5],lf:9.2,
  xlx:752,xly:1074,xlab:"log2(Fold Change)",xls:10,ylx:535.6,yly:855,ylab:"-log10(p_value)",yls:10.5});
scatter({L:32.5,R:479.4,T:1160.7,B:1620.7,xd:[-1,22.04],yd:[-1.006,22.03],xt:[0,5,10,15,20],yt:[0,5,10,15,20],diag:1,
  polys:[[iGreenCore,"g"],[iCore,"k"]],red:iRed,green:iGreen,gray:iGray,
  tx:252,ty:1148.5,ts:14.2,pearson:[73,1177.6,"pearson correlation: 0.951"],legend:[up(42),nd(1916),dn(198)],ldx:67,ltx:79.4,lys:[1194.8,1213,1231.5],
  xlx:255.6,xly:1643.7,xlab:"TYB",ylx:6,yly:1391,ylab:"TYA"});
scatter({L:530.6,R:947.5,T:1196.6,B:1618,xd:[-2.265,2.27],yd:[-.26,5.457],xt:[-2,-1,0,1,2],yt:[0,1,2,3,4,5],volcano:1,lineCol:"#5fd07a",
  polys:[[jGreenZone,"g",3],[jLeftZone,"k",3],[jLeftDense,"k",3],[jRightZone,"k",3],[jLeftCore,"k"],[jRightCore,"k"]],red:jRed,green:jGreen,gray:jGray,
  tx:738,ty:1113,ts:13.2,legend:[up(33),nd(1949),dn(174)],ldx:767.5,ltx:778.75,lys:[1138.5,1155,1172],lf:9.5,
  xlx:738,xly:1638.6,xlab:"log2(Fold Change)",xls:10.5});

const heatCol=d3.scaleLinear().domain([-2.5,0,2.5]).range(["#10f040","#000000","#ff0000"]);
const digitValue=d=>d>=5?(d-4.5)/2:(d-4.5)/2.2;
function heat(c){
  const x=d3.scaleBand().domain(c.cols).range([c.L,c.R]);
  const y=d3.scaleBand().domain(d3.range(c.rows.length)).range([c.T,c.B]);
  const g=svg.append("g").attr("shape-rendering","crispEdges");
  c.rows.forEach((r,i)=>{
    g.selectAll(null).data([...r]).join("rect").attr("x",(d,j)=>x(c.cols[j])).attr("y",y(i)).attr("width",x.bandwidth()+.5).attr("height",y.bandwidth()+.5).attr("fill",d=>heatCol(digitValue(+d)));
  });
  c.groups.forEach((col,i)=>g.append("rect").attr("x",i?c.Mid:c.L).attr("width",i?c.R-c.Mid:c.Mid-c.L).attr("y",c.annT).attr("height",c.annB-c.annT).attr("fill",col));
  txt(c.R+2.5,c.annY,"Group",6.5,"start").attr("font-weight","bold");
  const cy=d3.scaleLinear().domain(c.cbD).range([c.cbB,c.T]);
  g.selectAll(null).data(d3.range(c.cbD[0],c.cbD[1],.04)).join("rect").attr("x",c.cbL).attr("width",c.cbR-c.cbL).attr("y",d=>cy(d)-1).attr("height",2).attr("fill",d=>heatCol(d));
  [2,1,0,-1,-2].forEach(v=>txt(c.cbR+3,cy(v),v,6.5,"start"));
  c.cols.forEach(n=>{const cx=x(n)+x.bandwidth()/2;txt(cx,c.labY,n,6.5,"middle",90).attr("fill","#444");});
  const hy=d3.scaleLinear().domain([0,1]).range([c.annT-.5,c.rootY]);
  const dend=svg.append("g").attr("fill","none").attr("stroke","#777").attr("stroke-width",.8);
  (function walk(n){
    if(typeof n==="number")return{x:x(c.cols[n])+x.bandwidth()/2,h:0};
    const a=walk(n[1]),b=walk(n[2]);
    dend.append("path").attr("d",`M${a.x},${hy(a.h)}V${hy(n[0])}H${b.x}V${hy(b.h)}`);
    return{x:(a.x+b.x)/2,h:n[0]};
  })(c.tree);
  const N=c.N,ly=d3.scaleLinear().domain([0,N-1]).range([c.T+1,c.B-1]),hx=d3.scaleLinear().domain([0,1]).range([c.L-1,c.dL]);
  const rd=svg.append("g").attr("fill","none").attr("stroke",c.dCol).attr("stroke-width",.55);
  let k=0;
  (function build(lo,hi,root){
    if(lo===hi)return{y:ly(lo),h:0};
    const size=hi-lo+1;
    let m=root?Math.round(N*c.split):lo+Math.floor(size*leafRatios[k++%leafRatios.length]);
    m=Math.max(lo+1,Math.min(hi,m));
    const a=build(lo,m-1),b=build(m,hi),h=root?1:Math.pow(size/N,.6)*.8+.04;
    rd.append("path").attr("d",`M${hx(a.h)},${a.y}H${hx(h)}V${b.y}H${hx(b.h)}`);
    return{y:(a.y+b.y)/2,h};
  })(0,N-1,true);
}
const CYAN="#12d3df",SAL="#f8938a";
heat({cols:cCols,rows:cRows,tree:cTree,L:1027,R:1420,T:56,B:513,Mid:1223,annT:47.5,annB:54,annY:51,groups:[CYAN,SAL],cbL:1424,cbR:1431,cbB:147,cbD:[-2.7,2.7],labY:523,rootY:15,dL:989,split:.16,dCol:"#333",N:220});
heat({cols:gCols,rows:gRows,tree:gTree,L:1024,R:1410.3,T:581.4,B:1067.9,Mid:1217.3,annT:572.9,annB:579.3,annY:576,groups:[SAL,CYAN],cbL:1414,cbR:1421,cbB:677.9,cbD:[-2.55,2.55],labY:1079,rootY:537.5,dL:987,split:.64,dCol:"#888",N:170});
heat({cols:kCols,rows:kRows,tree:kTree,L:1018.3,R:1410,T:1134.5,B:1629.3,Mid:1214,annT:1126,annB:1132.7,annY:1129.5,groups:[CYAN,SAL],cbL:1413.7,cbR:1421,cbB:1233,cbD:[-2.55,2.55],labY:1640,rootY:1091,dL:986,split:.16,dCol:"#666",N:170});

/* panel d */
(function(){
  const L=1512.5,R=1921.8,T=107,B=496;
  const x=d3.scaleLinear().domain([0,100]).range([L,R]),y=d3.scaleLinear().domain([.2,1.4]).range([B,T]);
  const g=svg.append("g");const f='"DejaVu Sans Condensed","DejaVu Sans"';
  const xt=[20,40,60,80],yt=[.4,.6,.8,1,1.2];
  xt.forEach(v=>g.append("line").attr("x1",x(v)).attr("x2",x(v)).attr("y1",T).attr("y2",B).attr("stroke","#b8c0cc").attr("stroke-width",.8).attr("stroke-dasharray","1 2.5"));
  yt.forEach(v=>g.append("line").attr("x1",L).attr("x2",R).attr("y1",y(v)).attr("y2",y(v)).attr("stroke","#b8c0cc").attr("stroke-width",.8).attr("stroke-dasharray","1 2.5"));
  const ln=d3.line().x((d,i)=>x(dX[i])).y(d=>y(d)).curve(d3.curveMonotoneX);
  dSeries.forEach((s,i)=>g.append("path").attr("d",ln(s)).attr("fill","none").attr("stroke",dColors[i]).attr("stroke-width",1.1));
  g.append("line").attr("x1",L).attr("x2",R).attr("y1",B).attr("y2",B).attr("stroke","#3040b0").attr("stroke-width",1);
  g.append("rect").attr("x",L).attr("y",T).attr("width",R-L).attr("height",B-T).attr("fill","none").attr("stroke","#111").attr("stroke-width",1);
  [0,20,40,60,80,100].forEach(v=>{txt(x(v),505,v,13,"middle").style("font-family",f);if(v&&v<100){g.append("line").attr("x1",x(v)).attr("x2",x(v)).attr("y1",B).attr("y2",B-4).attr("stroke","#111");g.append("line").attr("x1",x(v)).attr("x2",x(v)).attr("y1",T).attr("y2",T+4).attr("stroke","#111");}});
  [.2,.4,.6,.8,1,1.2,1.4].forEach(v=>{txt(L-4,y(v),v.toFixed(1),13,"end").style("font-family",f);g.append("line").attr("x1",L).attr("x2",L+4).attr("y1",y(v)).attr("y2",y(v)).attr("stroke","#111");g.append("line").attr("x1",R).attr("x2",R-4).attr("y1",y(v)).attr("y2",y(v)).attr("stroke","#111");});
  g.append("rect").attr("x",1618).attr("y",75.5).attr("width",201.5).attr("height",65).attr("fill","#888");
  g.append("rect").attr("x",1616).attr("y",73.5).attr("width",201.5).attr("height",65).attr("fill","#fff").attr("stroke","#222");
  const cx=[1622,1674,1724,1775],cy=[83,94.6,105.7,117,128.6];
  dNames.forEach((n,i)=>{const c=Math.floor(i/5),r=i%5;
    g.append("line").attr("x1",cx[c]).attr("x2",cx[c]+9).attr("y1",cy[r]).attr("y2",cy[r]).attr("stroke",dColors[i]).attr("stroke-width",1.4);
    txt(cx[c]+10.5,cy[r],n,10.8,"start").style("font-family",f);});
})();

/* panel h */
(function(){
  const L=1479.4,R=1900.4,T=565.4,B=1054.6;
  const x=d3.scaleLinear().domain([-135,4642]).range([L,R]),y=d3.scaleLinear().domain([-18.9,400]).range([B,T]);
  const col=d3.scaleLinear().domain([0,390]).range(["#0cd81c","#d40000"]).interpolate(d3.interpolateLab);
  const g=svg.append("g");
  g.selectAll("rect").data(hCounts).join("rect").attr("x",(d,i)=>x(hStarts[i])).attr("width",x(hBinWidth)-x(0)).attr("y",d=>y(d)).attr("height",d=>y(0)-y(d)).attr("fill",d=>col(d));
  g.append("rect").attr("x",L).attr("y",T).attr("width",R-L).attr("height",B-T).attr("fill","none").attr("stroke","#888").attr("stroke-width",1.2);
  const style=a=>{a.select(".domain").remove();a.selectAll("line").attr("stroke","#666");a.selectAll("text").attr("fill","#777").style("font-size","9.5px").style("font-family",'"Liberation Sans"');};
  g.append("g").attr("transform",`translate(0,${B})`).call(d3.axisBottom(x).tickValues([0,1000,2000,3000,4000]).tickSize(0).tickPadding(5).tickFormat(d=>d)).call(style);
  g.append("g").attr("transform",`translate(${L},0)`).call(d3.axisLeft(y).tickValues([0,100,200,300,400]).tickSize(3).tickPadding(3).tickFormat(d=>d)).call(style);
  txt(1689.4,1077,"Length of circRNA (nt)",11.5,"middle");
  txt(1448.6,809.6,"Number of circRNA",11.5,"middle",-90);
  txt(1918.3,762.5,"Count",11,"start");
  const lg=defs.append("linearGradient").attr("id","hgrad").attr("x1",0).attr("x2",0).attr("y1",1).attr("y2",0);
  d3.range(0,1.01,.1).forEach(t=>lg.append("stop").attr("offset",t).attr("stop-color",col(t*390)));
  g.append("rect").attr("x",1918.3).attr("y",771.4).attr("width",18.3).attr("height",90.6).attr("fill","url(#hgrad)");
  [[300,791.8],[200,814.3],[100,837],[0,859.6]].forEach(d=>txt(1940.7,d[1],d[0],9.5,"start"));
})();

/* panel l */
(function(){
  const x=d3.scaleBand().domain(lCats).range([1522.3,1959]).paddingInner(.624).paddingOuter(.312);
  const y=d3.scaleLinear().domain([0,120]).range([1511.3,1162.8]);
  const rows=lCats.map((c,i)=>({cat:c,up:lUp[i],down:lDown[i]}));
  const st=d3.stack().keys(["up","down"])(rows);
  const g=svg.append("g"),cols={up:"#000",down:"#f40000"};
  st.forEach(s=>g.selectAll(null).data(s).join("rect").attr("x",d=>x(d.data.cat)).attr("width",x.bandwidth()).attr("y",d=>y(d[1])).attr("height",d=>y(d[0])-y(d[1])).attr("fill",cols[s.key]));
  const serif='"Liberation Serif",serif';
  g.append("line").attr("x1",1522.8).attr("x2",1522.8).attr("y1",1162.8).attr("y2",1511.3).attr("stroke","#222");
  g.append("line").attr("x1",1520).attr("x2",1958).attr("y1",1511.3).attr("y2",1511.3).attr("stroke","#222");
  [0,30,60,90,120].forEach(v=>{g.append("line").attr("x1",1519.5).attr("x2",1522.8).attr("y1",y(v)).attr("y2",y(v)).attr("stroke","#222");
    txt(1510,y(v),v,14,"end").style("font-family",serif).attr("font-weight","bold");});
  lCats.forEach(c=>{const cx=x(c)+x.bandwidth()/2;
    g.append("line").attr("x1",cx).attr("x2",cx).attr("y1",1511.3).attr("y2",1514.5).attr("stroke","#222");
    txt(cx-2,1524,c,15.5,"end",-50).style("font-family",serif).attr("font-weight","bold").attr("dy",".5em");});
  txt(1440,1314.5,"Count",20,"middle",-90).style("font-family",serif).attr("font-weight","bold");
  g.append("rect").attr("x",1768.3).attr("y",1172.7).attr("width",134.1).attr("height",72.3).attr("fill","#fff").attr("stroke","#222").attr("stroke-width",1);
  [["down-regulated",1192.8,"#f40000"],["up-regulated",1229.8,"#000"]].forEach(d=>{
    g.append("rect").attr("x",1790).attr("y",d[1]-4).attr("width",7.5).attr("height",8).attr("fill",d[2]);
    txt(1800.8,d[1],d[0],12,"start").style("font-family",'"Noto Sans"').attr("font-weight","600");});
})();

/* panel letters */
[["a",9,62],["b",532,62.5],["c",974,60.7],["d",1476,64],["e",3,574],["f",529,579],["g",970,569],["h",1448,553],["i",6,1125],["j",528,1128],["k",987,1123],["l",1458,1128]].forEach(d=>{
  svg.append("text").attr("x",d[1]).attr("y",d[2]).attr("font-size",46).attr("font-weight","bold").attr("fill","#000").text(d[0]);
});
</script></body></html>
